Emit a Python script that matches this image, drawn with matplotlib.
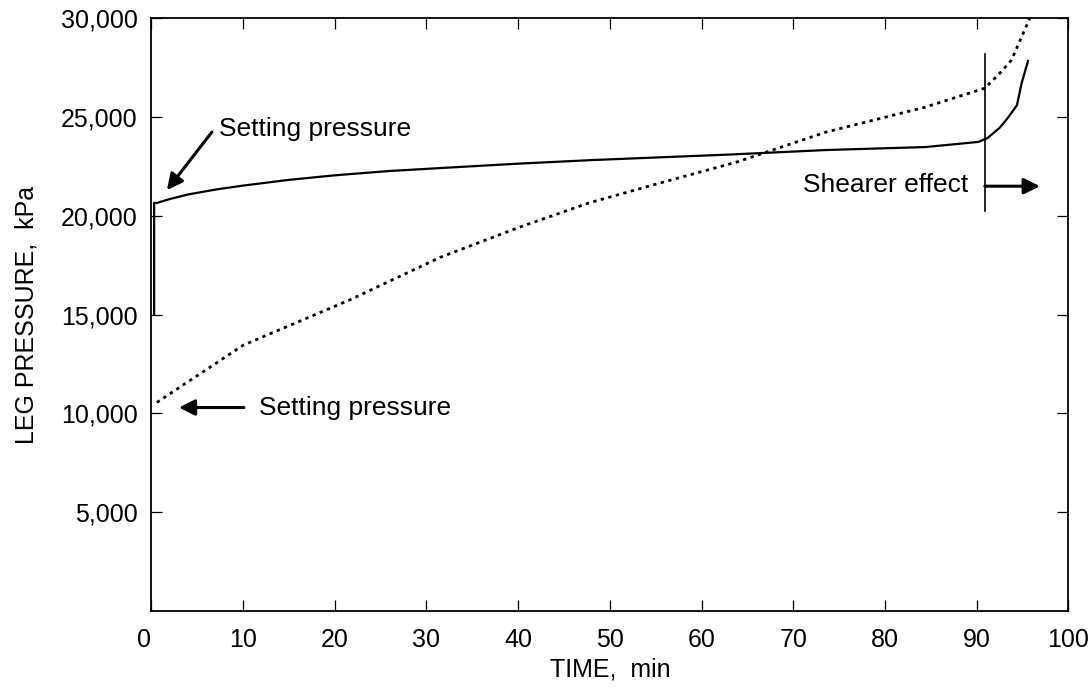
import matplotlib
matplotlib.use('Agg')
import matplotlib.pyplot as plt
from matplotlib.ticker import FuncFormatter

plt.rcParams['font.family'] = ['Liberation Sans', 'DejaVu Sans']

# leg pressure readings (kPa) against time (min)
time_solid = [0.3, 0.3, 0.6, 2, 4, 7, 10, 15, 20, 26, 32, 40, 48, 56, 63, 73.6, 84.4, 90.2, 91.2,
              92.5, 93.4, 94.4, 94.9, 95.6]
pressure_solid = [15000, 20650, 20650, 20850, 21080, 21330, 21530, 21820, 22050, 22270, 22430, 22640,
                  22820, 22970, 23100, 23330, 23480, 23740, 23940, 24450, 24950, 25600, 26700, 27830]

time_dot = [0.6, 10, 21.7, 31.5, 40, 47.7, 55, 63.9, 73.6, 84.4, 90.9, 92.5, 93.8, 95.8]
pressure_dot = [10560, 13450, 15760, 17900, 19400, 20650, 21600, 22730, 24240, 25500, 26460, 27200, 27880, 30000]

x_ticks = [0, 10, 20, 30, 40, 50, 60, 70, 80, 90, 100]
y_ticks = [5000, 10000, 15000, 20000, 25000, 30000]

shearer_time = 90.9

fig = plt.figure(figsize=(10.89, 7.0), dpi=100)
ax = fig.add_axes([0.139, 0.127, 0.842, 0.847])

ax.plot(time_solid, pressure_solid, color='black', lw=1.6)
ax.plot(time_dot, pressure_dot, color='black', lw=2.0, linestyle=(0, (1.2, 1.6)))

# shearer marker line
ax.plot([shearer_time, shearer_time], [20250, 28200], color='black', lw=1.2)

arrow = dict(arrowstyle='-|>', color='black', lw=2.2, mutation_scale=24, shrinkA=0, shrinkB=0)
ax.annotate('', xy=(1.7, 21300), xytext=(6.6, 24240), arrowprops=arrow)
ax.text(7.4, 24400, 'Setting pressure', fontsize=19, va='center', ha='left')
ax.annotate('', xy=(3.0, 10300), xytext=(10.1, 10300), arrowprops=arrow)
ax.text(11.7, 10300, 'Setting pressure', fontsize=19, va='center', ha='left')
ax.annotate('', xy=(96.9, 21500), xytext=(shearer_time, 21500), arrowprops=arrow)
ax.text(89.1, 21550, 'Shearer effect', fontsize=19, va='center', ha='right')

ax.set_xlim(0.2, 99.3)
ax.set_ylim(0, 30000)
ax.set_xticks(x_ticks)
ax.set_yticks(y_ticks)
ax.yaxis.set_major_formatter(FuncFormatter(lambda v, p: f'{int(v):,}'))
ax.tick_params(direction='in', length=8, width=0.9, labelsize=18, top=True, right=True, pad=12)
ax.tick_params(axis='y', pad=10)
ax.get_xticklabels()[0].set_horizontalalignment('right')

for s in ax.spines.values():
    s.set_linewidth(1.3)

ax.set_xlabel('TIME,  min', fontsize=18, labelpad=4)
ax.set_ylabel('LEG PRESSURE,  kPa', fontsize=18, labelpad=16)

fig.savefig('out.png', dpi=100)
